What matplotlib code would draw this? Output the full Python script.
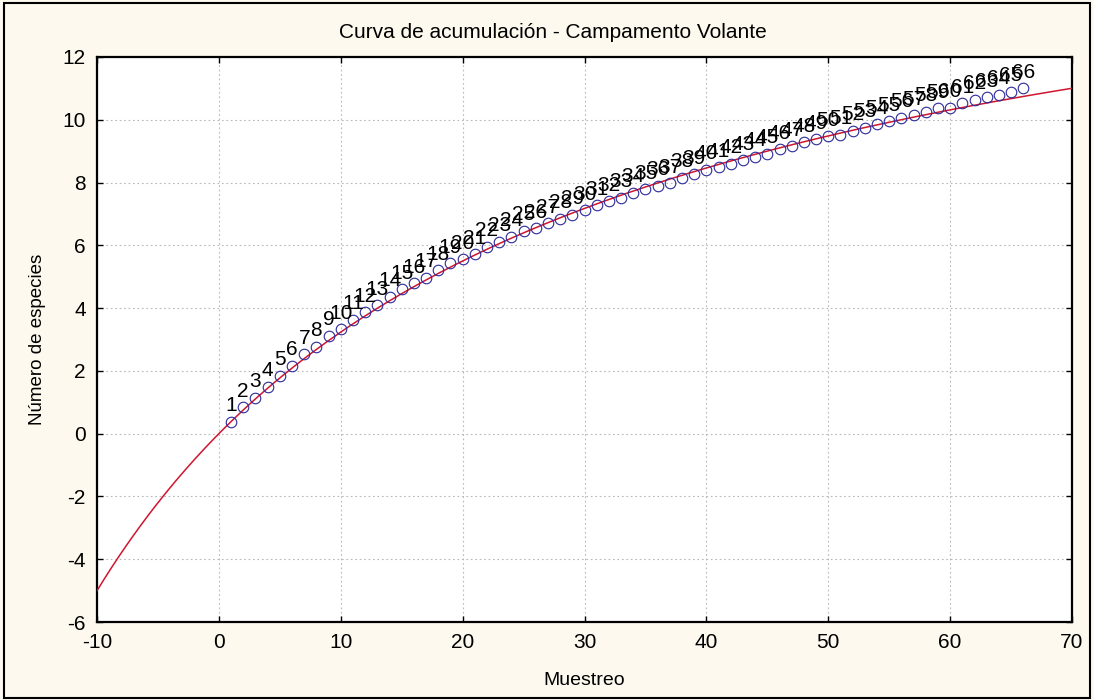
import numpy as np
import matplotlib
matplotlib.use("Agg")
import matplotlib.pyplot as plt
from matplotlib.patches import Rectangle

plt.rcParams['font.family'] = ['Liberation Sans', 'DejaVu Sans']

# Muestreos (unidades de esfuerzo) y especies acumuladas
muestreo = list(range(1, 67))
especies = [
    0.38, 0.84, 1.14, 1.50, 1.84, 2.17, 2.53, 2.77, 3.11, 3.33,
    3.62, 3.87, 4.09, 4.36, 4.60, 4.79, 4.97, 5.21, 5.43, 5.55,
    5.71, 5.96, 6.12, 6.28, 6.46, 6.55, 6.70, 6.85, 6.97, 7.12,
    7.28, 7.41, 7.51, 7.68, 7.79, 7.89, 7.98, 8.16, 8.27, 8.40,
    8.48, 8.59, 8.71, 8.82, 8.91, 9.06, 9.15, 9.28, 9.38, 9.47,
    9.53, 9.65, 9.74, 9.86, 9.95, 10.07, 10.15, 10.26, 10.36, 10.39,
    10.53, 10.63, 10.71, 10.80, 10.89, 11.00,
]
etiquetas = [str(n) for n in muestreo]

# Parámetros del modelo de Clench: S(x) = a*x / (1 + b*x)
clench_a = 0.393
clench_b = 0.02143

x_ticks = [-10, 0, 10, 20, 30, 40, 50, 60, 70]
y_ticks = [-6, -4, -2, 0, 2, 4, 6, 8, 10, 12]

W, H = 1094, 700
fig = plt.figure(figsize=(W / 100, H / 100), dpi=100)
fig.patch.set_facecolor('#FDF9EE')
fig.patches.append(Rectangle((4 / W, 2 / H), 1086 / W, 695 / H, transform=fig.transFigure,
                             fill=False, edgecolor='black', linewidth=1.5))

ax = fig.add_axes([97 / W, 1 - 622 / H, (1072 - 97) / W, (622 - 57) / H])
ax.set_facecolor('white')

xs = np.linspace(-10, 70, 400)
ax.plot(xs, clench_a * xs / (1 + clench_b * xs), color='#D0152F', linewidth=1.1, zorder=3)

ax.plot(muestreo, especies, linestyle='none', marker='o', markersize=7.6,
        markerfacecolor='none', markeredgecolor='#2B2B9A', markeredgewidth=0.8, zorder=4)

for xv, yv, lab in zip(muestreo, especies, etiquetas):
    ax.annotate(lab, (xv, yv), xytext=(0, 7.6), textcoords='offset points',
                ha='center', va='baseline', fontsize=15, color='black', zorder=5)

ax.set_xlim(-10, 70)
ax.set_ylim(-6, 12)
ax.set_xticks(x_ticks)
ax.set_yticks(y_ticks)
ax.set_xticklabels([str(v) for v in x_ticks])
ax.set_yticklabels([str(v) for v in y_ticks])
ax.tick_params(direction='in', length=4, width=1, top=True, right=True,
               labelsize=15, pad=8, colors='black')

ax.grid(True, linestyle=(0, (1.5, 2.5)), color='#B8B8B8', linewidth=0.8)
ax.set_axisbelow(True)
for s in ax.spines.values():
    s.set_linewidth(1.6)
    s.set_color('black')

ax.set_xlabel('Muestreo', fontsize=14)
ax.set_ylabel('Número de especies', fontsize=13.5)
ax.xaxis.set_label_coords(0.5, -0.104)
ax.yaxis.set_label_coords(-0.0615, 0.5)
ax.xaxis.label.set_va('center')
ax.yaxis.label.set_va('center')
fig.text(553 / W, 1 - 33 / H, 'Curva de acumulación - Campamento Volante',
         ha='center', va='center', fontsize=15)

fig.savefig('out.png', dpi=100, facecolor=fig.get_facecolor())
